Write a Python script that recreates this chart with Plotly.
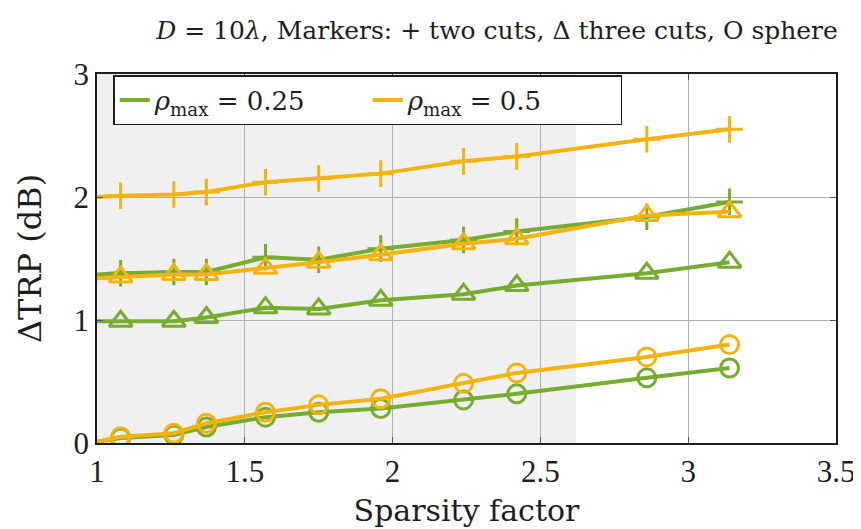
import plotly.graph_objects as go

# Sparsity factor (first entry at x = 1 has no marker drawn)
sparsity = [1.0, 1.08, 1.26, 1.37, 1.57, 1.75, 1.96, 2.24, 2.42, 2.86, 3.14]

# rho_max = 0.25 (green)
two_cuts_025 = [1.37, 1.38, 1.39, 1.39, 1.51, 1.49, 1.58, 1.65, 1.72, 1.84, 1.96]
three_cuts_025 = [0.99, 0.99, 0.99, 1.02, 1.10, 1.09, 1.16, 1.21, 1.28, 1.38, 1.47]
sphere_025 = [0.01, 0.04, 0.065, 0.13, 0.21, 0.25, 0.28, 0.35, 0.40, 0.53, 0.61]

# rho_max = 0.5 (orange)
two_cuts_05 = [2.0, 2.01, 2.02, 2.04, 2.12, 2.15, 2.19, 2.29, 2.33, 2.47, 2.55]
three_cuts_05 = [1.34, 1.35, 1.37, 1.37, 1.42, 1.47, 1.53, 1.62, 1.66, 1.85, 1.88]
sphere_05 = [0.01, 0.05, 0.08, 0.16, 0.25, 0.31, 0.36, 0.485, 0.57, 0.70, 0.80]

shade_end = 2.62
x_ticks = [1, 1.5, 2, 2.5, 3, 3.5]
y_ticks = [0, 1, 2, 3]

GREEN = "#77ac30"
ORANGE = "#f4b410"
TICK_FONT = "Liberation Serif"
TEXT_FONT = "DejaVu Serif"
INK = "#1e1e1e"

fig = go.Figure()

def add_series(y, color, symbol, size):
    sizes = [0] + [size] * (len(sparsity) - 1)
    fig.add_trace(go.Scatter(
        x=sparsity, y=y, mode="lines+markers", showlegend=False,
        line=dict(color=color, width=4),
        marker=dict(symbol=symbol, size=sizes, color=color, opacity=1,
                    line=dict(color=color, width=3)),
        cliponaxis=True,
    ))

add_series(sphere_025, GREEN, "circle-open", 18)
add_series(sphere_05, ORANGE, "circle-open", 18)
add_series(three_cuts_025, GREEN, "triangle-up-open", 20)
add_series(two_cuts_025, GREEN, "cross-thin-open", 19)
add_series(three_cuts_05, ORANGE, "triangle-up-open", 20)
add_series(two_cuts_05, ORANGE, "cross-thin-open", 19)

# legend entries
fig.add_trace(go.Scatter(x=[None], y=[None], mode="lines", name="<i>ρ</i><sub>max</sub> = 0.25",
                         line=dict(color=GREEN, width=4)))
fig.add_trace(go.Scatter(x=[None], y=[None], mode="lines", name="<i>ρ</i><sub>max</sub> = 0.5",
                         line=dict(color=ORANGE, width=4)))

fig.add_shape(type="rect", xref="x", yref="y", x0=1, x1=shade_end, y0=0, y1=3,
              fillcolor="#f0f0f0", line=dict(width=0), layer="below")

axis_common = dict(
    showline=True, linecolor=INK, linewidth=1.5, mirror="ticks",
    ticks="inside", ticklen=6, tickcolor="#555",
    showgrid=True, gridcolor="#b0b0b0", gridwidth=1, zeroline=False,
    tickfont=dict(family=TICK_FONT, size=31, color=INK),
    automargin=False,
)

fig.update_xaxes(range=[1, 3.5], tickvals=x_ticks, ticktext=[str(v) for v in x_ticks],
                 title=dict(text="Sparsity factor", font=dict(family=TEXT_FONT, size=30, color=INK), standoff=12),
                 **axis_common)
fig.update_yaxes(range=[0, 3], tickvals=y_ticks,
                 title=dict(text="ΔTRP (dB)", font=dict(family=TEXT_FONT, size=32, color=INK), standoff=22),
                 **axis_common)

fig.update_layout(
    width=861, height=529,
    margin=dict(l=89, r=33, t=66, b=94),
    paper_bgcolor="white", plot_bgcolor="white",
    font=dict(family=TICK_FONT, color=INK),
    title=dict(text="<i>D</i> = 10<i>λ</i>, Markers: + two cuts, Δ three cuts, O sphere",
               x=0.568, xanchor="center", y=0.958, yanchor="middle",
               font=dict(family=TEXT_FONT, size=25, color=INK)),
    legend=dict(orientation="h", x=0.022, y=0.997, xanchor="left", yanchor="top",
                bgcolor="white", bordercolor=INK, borderwidth=1.5,
                font=dict(family=TEXT_FONT, size=26, color=INK),
                entrywidth=208, tracegroupgap=0),
)

fig.write_html("out.html")
